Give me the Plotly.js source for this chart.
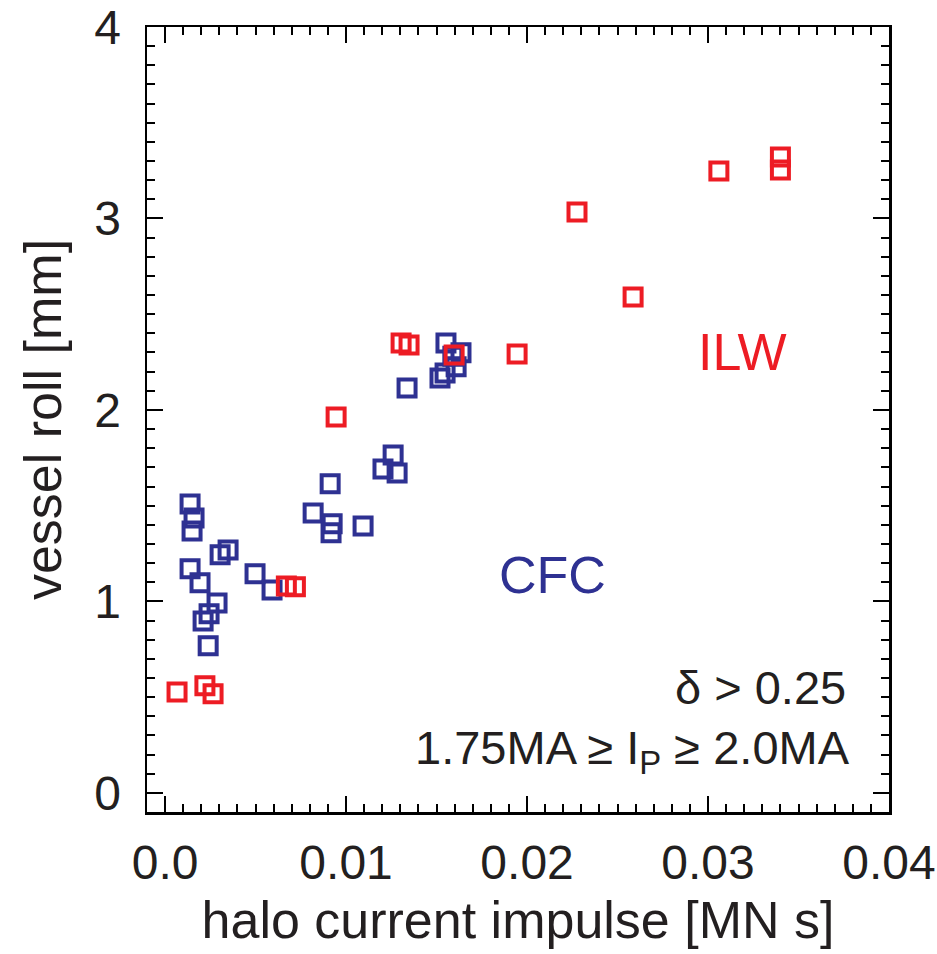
<!DOCTYPE html>
<html>
<head>
<meta charset="utf-8">
<script src="https://cdn.plot.ly/plotly-3.0.1.min.js"></script>
<style>html,body{margin:0;padding:0;background:#fff}#chart{width:937px;height:954px}</style>
</head>
<body>
<div id="chart"></div>
<script>
// CFC (carbon wall) data
const cfcImpulse = [0.00138, 0.0016, 0.00149, 0.00304, 0.00348, 0.00138, 0.00193, 0.00287, 0.00243, 0.0021, 0.00238,
  0.00497, 0.00591, 0.00818, 0.00912, 0.00923, 0.00917, 0.01094, 0.01204, 0.0126, 0.01282,
  0.01337, 0.01552, 0.01635, 0.0159, 0.01608, 0.01519, 0.01547];
const cfcRoll = [1.509, 1.436, 1.368, 1.243, 1.269, 1.170, 1.097, 0.992, 0.935, 0.898, 0.768,
  1.144, 1.060, 1.462, 1.614, 1.405, 1.358, 1.394, 1.692, 1.765, 1.671,
  2.115, 2.350, 2.298, 2.280, 2.225, 2.167, 2.193];
// ILW data
const ilwImpulse = [0.00066, 0.0022, 0.00265, 0.0067, 0.0072, 0.00945, 0.01304, 0.01348, 0.01597, 0.01945,
  0.02276, 0.02586, 0.0306, 0.0340, 0.0340];
const ilwRoll = [0.527, 0.559, 0.517, 1.081, 1.076, 1.963, 2.350, 2.339, 2.287, 2.292,
  3.034, 2.590, 3.248, 3.321, 3.253];

const xTickVals = [0, 0.01, 0.02, 0.03, 0.04];
const xTickText = ["0.0", "0.01", "0.02", "0.03", "0.04"];
const yTickVals = [0, 1, 2, 3, 4];
const yTickText = ["0", "1", "2", "3", "4"];

const BLUE = "#2E3192";
const RED = "#ED1C24";
const FONT = "Liberation Sans, Arial, Helvetica, sans-serif";

const traces = [
  {x: cfcImpulse, y: cfcRoll, type: "scatter", mode: "markers", name: "CFC",
   marker: {symbol: "square-open", size: 17, color: BLUE, line: {width: 4, color: BLUE}}},
  {x: ilwImpulse, y: ilwRoll, type: "scatter", mode: "markers", name: "ILW",
   marker: {symbol: "square-open", size: 17, color: RED, line: {width: 4, color: RED}}}
];

const axisCommon = {
  showline: true, linecolor: "#000", linewidth: 2.5, mirror: "ticks",
  ticks: "inside", ticklen: 16, tickwidth: 2, tickcolor: "#000",
  showgrid: false, zeroline: false,
  tickfont: {family: FONT, size: 48, color: "#231f20"}
};

const layout = {
  width: 937, height: 954,
  margin: {l: 147, r: 48, t: 27, b: 142},
  paper_bgcolor: "#fff", plot_bgcolor: "#fff",
  showlegend: false,
  font: {family: FONT, color: "#231f20"},
  xaxis: Object.assign({}, axisCommon, {
    range: [-0.001, 0.04], tickmode: "array", tickvals: xTickVals, ticktext: xTickText,
    ticklabelstandoff: 7,
    minor: {tickmode: "linear", tick0: 0, dtick: 0.001, ticks: "inside", ticklen: 8, tickwidth: 2, tickcolor: "#000", showgrid: false},
    title: {text: "halo current impulse [MN s]", font: {family: FONT, size: 52, color: "#231f20"}, standoff: 14}
  }),
  yaxis: Object.assign({}, axisCommon, {
    range: [-0.1, 4], tickmode: "array", tickvals: yTickVals, ticktext: yTickText,
    ticklabelstandoff: 14,
    minor: {tickmode: "linear", tick0: 0, dtick: 0.1, ticks: "inside", ticklen: 8, tickwidth: 2, tickcolor: "#000", showgrid: false},
    title: {text: "vessel roll [mm]", font: {family: FONT, size: 52, color: "#231f20"}, standoff: 16}
  }),
  annotations: [
    {xref: "paper", yref: "paper", x: 0.546, y: 0.302, text: "CFC", showarrow: false,
     xanchor: "center", yanchor: "middle", font: {family: FONT, size: 52, color: BLUE}},
    {xref: "paper", yref: "paper", x: 0.803, y: 0.586, text: "ILW", showarrow: false,
     xanchor: "center", yanchor: "middle", font: {family: FONT, size: 52, color: RED}},
    {xref: "paper", yref: "paper", x: 0.945, y: 0.158, text: "δ > 0.25", showarrow: false,
     xanchor: "right", yanchor: "middle", font: {family: FONT, size: 47, color: "#231f20"}},
    {xref: "paper", yref: "paper", x: 0.950, y: 0.078, text: "1.75MA ≥ I<sub>P</sub> ≥ 2.0MA", showarrow: false,
     xanchor: "right", yanchor: "middle", font: {family: FONT, size: 47, color: "#231f20"}}
  ]
};

Plotly.newPlot("chart", traces, layout, {staticPlot: true, displayModeBar: false});
</script>
</body>
</html>
